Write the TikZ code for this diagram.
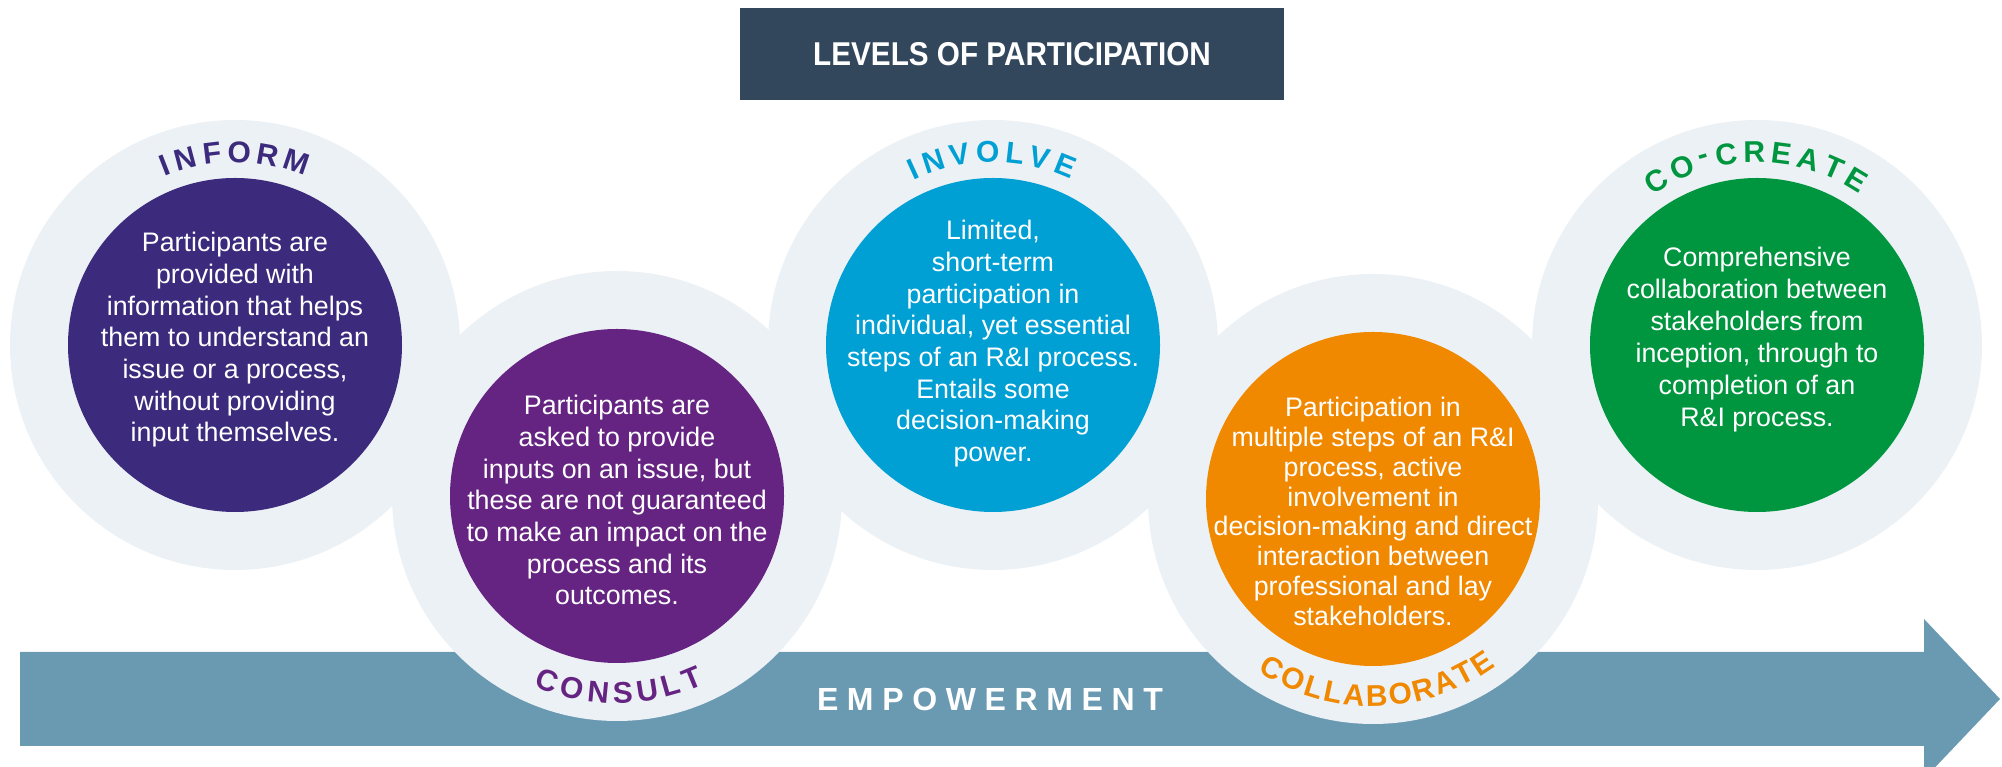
\documentclass[tikz,border=0pt]{standalone}
\usepackage{fontspec}
\setmainfont{Liberation Sans}
\newfontfamily\empfont[LetterSpace=27]{Liberation Sans}
\definecolor{ring}{HTML}{ECF1F5}
\definecolor{cInform}{HTML}{3C2A7D}
\definecolor{cConsult}{HTML}{662482}
\definecolor{cInvolve}{HTML}{009FD4}
\definecolor{cCollab}{HTML}{F08800}
\definecolor{cCocreate}{HTML}{00963F}
\definecolor{arrowc}{HTML}{6A9AB2}
\definecolor{titlec}{HTML}{33475C}
\tikzset{
  ringc/.style={circle, fill=ring, minimum size=450pt, inner sep=0pt},
  disc/.style={circle, minimum size=334pt, inner sep=0pt},
  body/.style={text=white, align=center, inner sep=0pt, anchor=north,
    font=\fontsize{26.8}{31.7}\selectfont},
  lab/.style={inner sep=0pt, font=\bfseries\fontsize{30}{30}\selectfont},
}
\begin{document}
\begin{tikzpicture}[x=1pt,y=1pt]
\useasboundingbox (0,0) rectangle (2002,767);
\clip (0,0) rectangle (2002,767);
% arrow
\fill[arrowc] (20,115) -- (1924,115) -- (1924,148) -- (2000,68) -- (1924,-12) -- (1924,21) -- (20,21) -- cycle;
\node[text=white, font=\empfont\bfseries\fontsize{32}{38}\selectfont] (emp) at (990,68) {EMPOWERMENT};
% title
\node[fill=titlec, minimum width=544pt, minimum height=92pt, inner sep=0pt, text=white,
  font=\bfseries\fontsize{33}{38}\selectfont] (title) at (1012,713) {\scalebox{0.9}[1]{LEVELS OF PARTICIPATION}};
% rings
\node[ringc] (inform-ring) at (235,422) {};
\node[ringc] (consult-ring) at (617,271) {};
\node[ringc] (involve-ring) at (993,422) {};
\node[ringc] (collab-ring) at (1373,268) {};
\node[ringc] (cocreate-ring) at (1757,422) {};
% discs
\node[disc, fill=cInform] (inform) at (235,422) {};
\node[disc, fill=cConsult] (consult) at (617,271) {};
\node[disc, fill=cInvolve] (involve) at (993,422) {};
\node[disc, fill=cCollab] (collab) at (1373,268) {};
\node[disc, fill=cCocreate] (cocreate) at (1757,422) {};
% texts
\node[body] (inform-text) at (235,535) {Participants are\\provided with\\information that helps\\them to understand an\\issue or a process,\\without providing\\input themselves.};
\node[body] (consult-text) at (617,372) {Participants are\\asked to provide\\inputs on an issue, but\\these are not guaranteed\\to make an impact on the\\process and its\\outcomes.};
\node[body] (involve-text) at (993,547) {Limited,\\short-term\\participation in\\individual, yet essential\\steps of an R\&I process.\\Entails some\\decision-making\\power.};
\node[body, font=\fontsize{26.8}{29.8}\selectfont] (collab-text) at (1373,370) {Participation in\\multiple steps of an R\&I\\process, active\\involvement in\\decision-making and direct\\interaction between\\professional and lay\\stakeholders.};
\node[body, font=\fontsize{26.8}{32}\selectfont] (cocreate-text) at (1757,520) {Comprehensive\\collaboration between\\stakeholders from\\inception, through to\\completion of an\\R\&I process.};
% arc labels
\foreach \ch/\ang [count=\i] in {I/111.26, N/104.76, F/96.88, O/88.73, R/80.14, M/71.34}
  \node[lab, text=cInform, rotate=\ang-90] (inform-l\i) at ([shift={(\ang:193)}]235,422) {\ch};
\foreach \ch/\ang [count=\i] in {I/114.51, N/108.04, V/99.93, O/91.6, L/83.5, V/75.86, E/67.99}
  \node[lab, text=cInvolve, rotate=\ang-90] (involve-l\i) at ([shift={(\ang:193)}]993,422) {\ch};
\foreach \ch/\ang [count=\i] in {C/121.56, O/112.94, -/105.94, C/99.18, R/90.78, E/82.62, A/74.46, T/66.54, E/58.84}
  \node[lab, text=cCocreate, rotate=\ang-90] (cocreate-l\i) at ([shift={(\ang:193)}]1757,422) {\ch};
\foreach \ch/\ang [count=\i] in {C/249.3, O/256.92, N/264.54, S/271.7, U/278.87, L/285.81, T/292.3}
  \node[lab, text=cConsult, rotate=\ang+90] (consult-l\i) at ([shift={(\ang:197)}]617,271) {\ch};
\foreach \ch/\ang [count=\i] in {C/239.3, O/246.2, L/252.65, L/258.35, A/264.5, B/271.11, O/277.95, R/284.78, A/291.45, T/297.6, E/303.6}
  \node[lab, text=cCollab, rotate=\ang+90] (collab-l\i) at ([shift={(\ang:197)}]1373,268) {\ch};
\end{tikzpicture}
\end{document}
